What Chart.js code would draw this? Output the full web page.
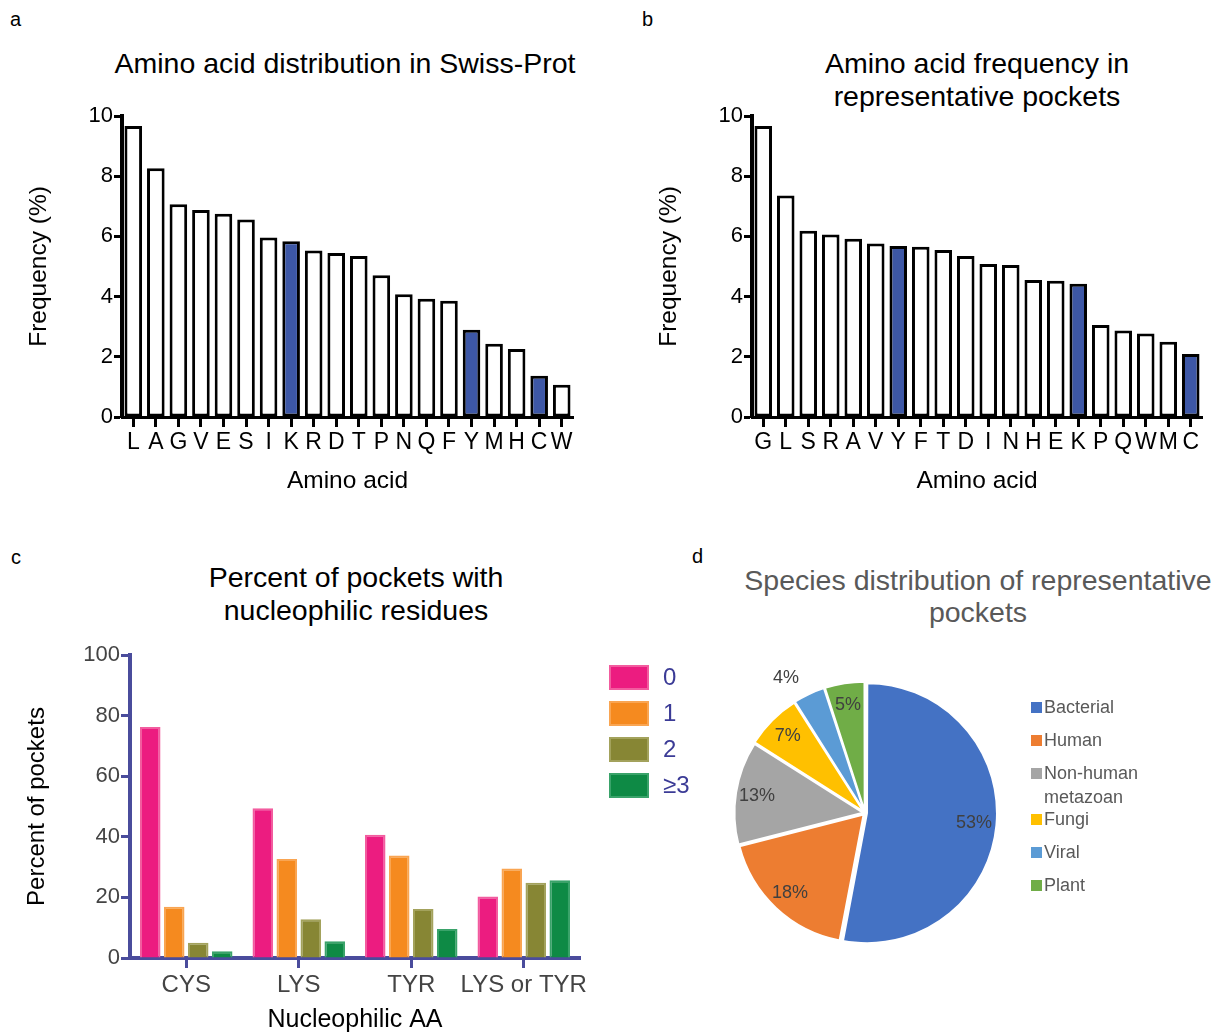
<!DOCTYPE html>
<html>
<head>
<meta charset="utf-8">
<script src="https://cdn.jsdelivr.net/npm/chart.js@4/dist/chart.umd.min.js"></script>
<style>
  body { margin: 0; background: #fff; font-family: "Liberation Sans", Arial, sans-serif; }
  #page { position: relative; width: 1219px; height: 1033px; overflow: hidden; background: #fff; }
  canvas { position: absolute; }
  .letter { position: absolute; font-size: 20px; color: #000; }
  .title { position: absolute; text-align: center; font-size: 28.5px; line-height: 33px; color: #000; white-space: nowrap; }
</style>
</head>
<body>
<div id="page">
  <div class="letter" style="left:10px;top:8px">a</div>
  <div class="letter" style="left:642px;top:8px">b</div>
  <div class="letter" style="left:11px;top:546px">c</div>
  <div class="letter" style="left:692px;top:545px">d</div>

  <div class="title" style="left:95px;width:500px;top:47px">Amino acid distribution in Swiss-Prot</div>
  <div class="title" style="left:727px;width:500px;top:47px">Amino acid frequency in<br>representative pockets</div>
  <div class="title" style="left:106px;width:500px;top:561px">Percent of pockets with<br>nucleophilic residues</div>
  <div class="title" style="left:698px;width:560px;top:564px;line-height:32px;color:#595959">Species distribution of representative<br>pockets</div>

  <canvas id="chartA" width="610" height="500" style="left:0;top:0"></canvas>
  <canvas id="chartB" width="589" height="500" style="left:630px;top:0"></canvas>
  <canvas id="chartC" width="700" height="513" style="left:0;top:520px"></canvas>
  <canvas id="chartD" width="579" height="393" style="left:640px;top:640px"></canvas>
</div>

<script>
// panel a: Swiss-Prot
const swissLabels = ["L", "A", "G", "V", "E", "S", "I", "K", "R", "D", "T", "P", "N", "Q", "F", "Y", "M", "H", "C", "W"];
const swissValues = [9.67, 8.26, 7.07, 6.88, 6.75, 6.56, 5.96, 5.84, 5.53, 5.45, 5.35, 4.71, 4.08, 3.93, 3.86, 2.90, 2.43, 2.26, 1.37, 1.07];

// panel b: representative pockets
const pocketLabels = ["G", "L", "S", "R", "A", "V", "Y", "F", "T", "D", "I", "N", "H", "E", "K", "P", "Q", "W", "M", "C"];
const pocketValues = [9.67, 7.36, 6.19, 6.06, 5.92, 5.76, 5.68, 5.66, 5.55, 5.35, 5.08, 5.05, 4.55, 4.53, 4.43, 3.06, 2.87, 2.77, 2.50, 2.09];

// nucleophilic residues get the blue fill
const nucleophilic = ["K", "Y", "C"];

// panel c: percent of pockets by number of nucleophilic residues
const nucCategories = ["CYS", "LYS", "TYR", "LYS or TYR"];
const nucCountLabels = ["0", "1", "2", "\u22653"];
const nuc0 = [76.2, 49.4, 40.7, 20.3];
const nuc1 = [16.9, 32.7, 33.8, 29.5];
const nuc2 = [5.0, 12.8, 16.2, 24.8];
const nuc3 = [2.2, 5.5, 9.6, 25.7];

// panel d: species
const speciesLabels = ["Bacterial", "Human", "Non-human metazoan", "Fungi", "Viral", "Plant"];
const speciesValues = [53, 18, 13, 7, 4, 5];

Chart.defaults.font.family = '"Liberation Sans", Arial, sans-serif';
Chart.defaults.color = "#000";
Chart.defaults.animation = false;
Chart.defaults.plugins.legend.display = false;
Chart.defaults.plugins.tooltip.enabled = false;

function aminoChart(canvas, labels, values, padRight) {
  return new Chart(canvas, {
    type: "bar",
    data: {
      labels: labels,
      datasets: [{
        data: values,
        backgroundColor: labels.map(l => nucleophilic.includes(l) ? "#3d57a6" : "#ffffff"),
        borderColor: "#000",
        borderWidth: 3,
        borderSkipped: false,
        barPercentage: 0.78,
        categoryPercentage: 1
      }]
    },
    options: {
      responsive: false,
      layout: { padding: { top: 116, right: padRight, left: 0, bottom: 0 } },
      scales: {
        x: {
          afterFit: s => { s.height = 83; },
          grid: { drawOnChartArea: false, offset: false, tickLength: 10, tickWidth: 3, tickColor: "#000" },
          border: { color: "#000", width: 3 },
          ticks: { font: { size: 23 }, padding: 2, autoSkip: false, maxRotation: 0, color: "#000" },
          title: { display: true, text: "Amino acid", font: { size: 24.5 }, padding: { bottom: 4, top: 0 }, color: "#000" }
        },
        y: {
          min: 0, max: 10,
          afterFit: s => { s.width = 122; },
          grid: { drawOnChartArea: false, tickLength: 8, tickWidth: 3, tickColor: "#000" },
          border: { color: "#000", width: 4 },
          ticks: { stepSize: 2, font: { size: 22 }, padding: 1, color: "#000" },
          title: { display: true, text: "Frequency (%)", font: { size: 24.5 }, padding: { top: 25, bottom: 0 }, color: "#000" }
        }
      }
    }
  });
}

aminoChart(document.querySelector("#chartA"), swissLabels, swissValues, 37);
aminoChart(document.querySelector("#chartB"), pocketLabels, pocketValues, 17);

// legend for panel c, boxes + labels to the right of the plot
const legendC = {
  id: "legendC",
  afterDraw(chart) {
    const ctx = chart.ctx;
    ctx.save();
    chart.data.datasets.forEach((ds, i) => {
      const y = 145 + i * 36;
      ctx.fillStyle = ds.backgroundColor;
      ctx.fillRect(609, y, 40, 25);
      ctx.strokeStyle = ds.borderColor;
      ctx.lineWidth = 2;
      ctx.strokeRect(610, y + 1, 38, 23);
      ctx.fillStyle = "#3b3b96";
      ctx.font = '24px "Liberation Sans", Arial, sans-serif';
      ctx.textBaseline = "middle";
      ctx.fillText(ds.label, 663, y + 13);
    });
    ctx.restore();
  }
};

const axisBlue = "#4a4c9c";
const cFills = ["#ec1c80", "#f58a1f", "#878634", "#0e8a45"];
const cEdges = ["#f25c9f", "#f9a552", "#a3a25c", "#3aa36a"];

new Chart(document.querySelector("#chartC"), {
  type: "bar",
  data: {
    labels: nucCategories,
    datasets: [nuc0, nuc1, nuc2, nuc3].map((vals, i) => ({
      label: nucCountLabels[i],
      data: vals,
      backgroundColor: cFills[i],
      borderColor: cEdges[i],
      borderWidth: 2,
      borderSkipped: "bottom",
      barPercentage: 0.855,
      categoryPercentage: 0.853
    }))
  },
  options: {
    responsive: false,
    layout: { padding: { top: 135, right: 120, left: 0, bottom: 0 } },
    scales: {
      x: {
        afterFit: s => { s.height = 75; },
        grid: { drawOnChartArea: false, offset: false, tickLength: 10, tickWidth: 3, tickColor: axisBlue },
        border: { color: axisBlue, width: 4 },
        ticks: { font: { size: 24 }, padding: 3, color: "#444", maxRotation: 0, autoSkip: false },
        title: { display: true, text: "Nucleophilic AA", font: { size: 25, lineHeight: 1 }, padding: 0, color: "#000" }
      },
      y: {
        min: 0, max: 100,
        afterFit: s => { s.width = 130; },
        grid: { drawOnChartArea: false, tickLength: 9, tickWidth: 3, tickColor: axisBlue },
        border: { color: axisBlue, width: 4 },
        ticks: { stepSize: 20, font: { size: 22 }, padding: 1, color: "#444" },
        title: { display: true, text: "Percent of pockets", font: { size: 24 }, padding: { top: 23, bottom: 0 }, color: "#000" }
      }
    }
  },
  plugins: [legendC]
});

// percent labels on the pie slices
const pieLabels = {
  id: "pieLabels",
  afterDatasetsDraw(chart) {
    const ctx = chart.ctx;
    const meta = chart.getDatasetMeta(0);
    const total = speciesValues.reduce((a, b) => a + b, 0);
    ctx.save();
    ctx.font = '18px "Liberation Sans", Arial, sans-serif';
    ctx.fillStyle = "#404040";
    ctx.textAlign = "center";
    ctx.textBaseline = "middle";
    meta.data.forEach((arc, i) => {
      const p = arc.getProps(["x", "y", "startAngle", "endAngle", "outerRadius"], true);
      const mid = (p.startAngle + p.endAngle) / 2;
      const share = speciesValues[i] / total;
      const r = share < 0.045 ? p.outerRadius * 1.22 : p.outerRadius * 0.8 + 7;
      const a = share < 0.045 ? mid - 0.09 : mid;
      ctx.fillText(Math.round(share * 100) + "%", p.x + Math.cos(a) * r, p.y + Math.sin(a) * r);
    });
    ctx.restore();
  }
};

// legend of panel d
const legendD = {
  id: "legendD",
  afterDraw(chart) {
    const ctx = chart.ctx;
    const colors = chart.data.datasets[0].backgroundColor;
    ctx.save();
    ctx.font = '18px "Liberation Sans", Arial, sans-serif';
    ctx.textBaseline = "middle";
    let extra = 0;
    speciesLabels.forEach((label, i) => {
      const lines = label === "Non-human metazoan" ? ["Non-human", "metazoan"] : [label];
      const y = 68 + 33 * i + extra;
      ctx.fillStyle = colors[i];
      ctx.fillRect(391, y - 6, 11, 11);
      ctx.fillStyle = "#595959";
      lines.forEach((t, k) => ctx.fillText(t, 404, y + 24 * k));
      extra += 13 * (lines.length - 1);
    });
    ctx.restore();
  }
};

new Chart(document.querySelector("#chartD"), {
  type: "pie",
  data: {
    labels: speciesLabels,
    datasets: [{
      data: speciesValues,
      backgroundColor: ["#4472c4", "#ed7d31", "#a5a5a5", "#ffc000", "#5b9bd5", "#70ad47"],
      borderColor: "#fff",
      borderWidth: 2,
      offset: 8
    }]
  },
  options: {
    responsive: false,
    radius: 128,
    layout: { padding: { top: 3, left: 55, right: 184, bottom: 50 } }
  },
  plugins: [pieLabels, legendD]
});
</script>
</body>
</html>
